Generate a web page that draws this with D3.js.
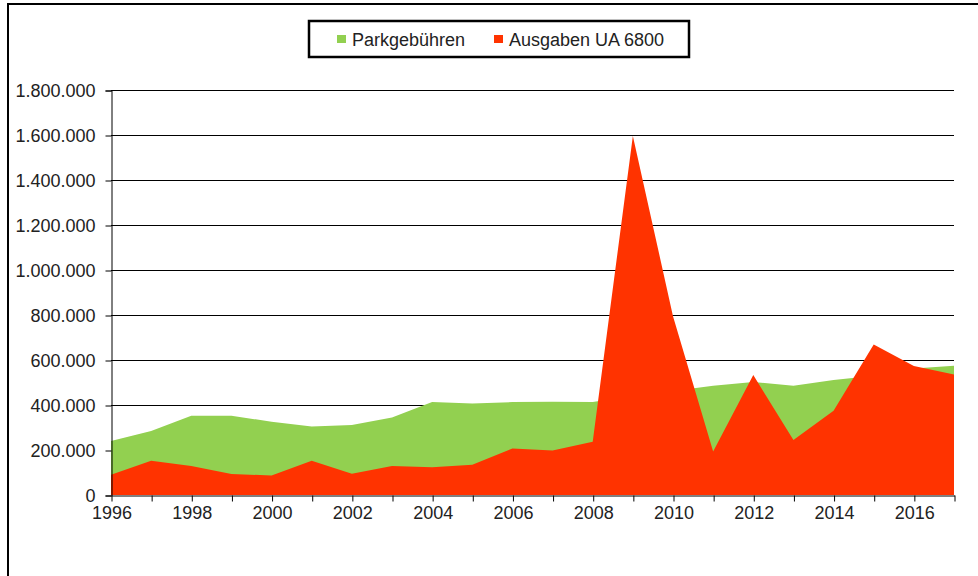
<!DOCTYPE html>
<html>
<head>
<meta charset="utf-8">
<script src="https://cdn.jsdelivr.net/npm/d3@7"></script>
<style>
  html, body { margin: 0; padding: 0; background: #fff; }
  svg { display: block; }
  text { font-family: "Liberation Sans", Arial, sans-serif; fill: #222; }
</style>
</head>
<body>
<svg id="chart" width="978" height="576"></svg>
<script>
const years = [1996,1997,1998,1999,2000,2001,2002,2003,2004,2005,2006,2007,2008,2009,2010,2011,2012,2013,2014,2015,2016,2017];
const parkgebuehren = [240000,284000,352000,352000,326000,305000,311000,344000,413000,407000,413000,415000,413000,440000,462000,486000,502000,486000,511000,530000,562000,575000];
const ausgaben = [90000,152000,129000,93000,87000,152000,95000,129000,123000,135000,207000,198000,237000,1596000,795000,193000,533000,244000,375000,669000,573000,536000];
const yTicks = [0,200000,400000,600000,800000,1000000,1200000,1400000,1600000,1800000];
const xLabelYears = [1996,1998,2000,2002,2004,2006,2008,2010,2012,2014,2016];
const seriesNames = ["Parkgebühren", "Ausgaben UA 6800"];
const seriesColors = ["#92D050", "#FF3300"];

const svg = d3.select("#chart");
const plotLeft = 111, plotRight = 954, plotTop = 90, plotBottom = 495;

const x = d3.scaleLinear().domain([1996, 2017]).range([plotLeft, plotRight]);
const y = d3.scaleLinear().domain([0, 1800000]).range([plotBottom, plotTop]);

const de = d3.formatLocale({decimal: ",", thousands: ".", grouping: [3], currency: ["", " €"]});
const fmt = de.format(",d");

// outer frame
svg.append("rect").attr("x", 8).attr("y", 4).attr("width", 1000).attr("height", 600)
  .attr("fill", "none").attr("stroke", "#000").attr("stroke-width", 2);

// gridlines
svg.append("g").selectAll("line").data(yTicks.filter(d => d > 0)).join("line")
  .attr("x1", plotLeft).attr("x2", plotRight)
  .attr("y1", d => y(d) + 0.5).attr("y2", d => y(d) + 0.5)
  .attr("stroke", "#000").attr("stroke-width", 1);

// areas
const data = years.map((yr, i) => ({yr, p: parkgebuehren[i], a: ausgaben[i]}));
const areaP = d3.area().x(d => x(d.yr)).y0(y(0)).y1(d => y(d.p));
const areaA = d3.area().x(d => x(d.yr)).y0(y(0)).y1(d => y(d.a));
svg.append("path").datum(data).attr("d", areaP).attr("fill", seriesColors[0]);
svg.append("path").datum(data).attr("d", areaA).attr("fill", seriesColors[1]);

// y axis
const yAxis = d3.axisLeft(y).tickValues(yTicks).tickFormat(fmt).tickSize(6).tickPadding(10);
const gy = svg.append("g").attr("transform", `translate(${plotLeft + 0.5},0.5)`).call(yAxis);
gy.select(".domain").attr("stroke", "#000");
gy.selectAll(".tick line").attr("stroke", "#000");
gy.selectAll(".tick text").attr("font-size", 18).attr("font-family", "Liberation Sans, Arial, sans-serif").attr("fill", "#222");

// x axis
const xAxis = d3.axisBottom(x).tickValues(years).tickSize(6).tickSizeOuter(0)
  .tickFormat(d => xLabelYears.includes(d) ? String(d) : "").tickPadding(5);
const gx = svg.append("g").attr("transform", `translate(0.5,${plotBottom + 0.5})`).call(xAxis);
gx.select(".domain").attr("stroke", "#000");
gx.selectAll(".tick line").attr("stroke", "#000");
gx.selectAll(".tick text").attr("font-size", 18).attr("font-family", "Liberation Sans, Arial, sans-serif").attr("fill", "#222");

// legend
const lg = svg.append("g");
lg.append("rect").attr("x", 309).attr("y", 21).attr("width", 380).attr("height", 36)
  .attr("fill", "#fff").attr("stroke", "#000").attr("stroke-width", 2.5);
const legendX = [337, 494];
seriesNames.forEach((name, i) => {
  lg.append("rect").attr("x", legendX[i]).attr("y", 35).attr("width", 9).attr("height", 8).attr("fill", seriesColors[i]);
  lg.append("text").attr("x", legendX[i] + 15).attr("y", 46).attr("font-size", 18).text(name);
});
</script>
</body>
</html>
